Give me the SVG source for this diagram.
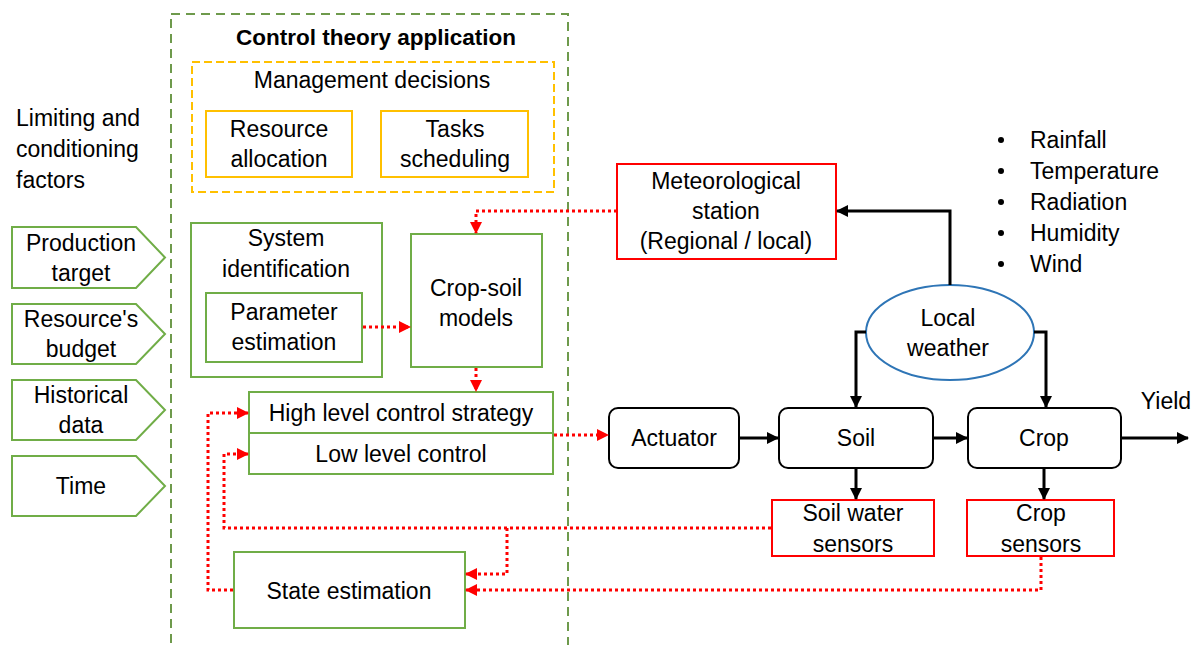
<svg xmlns="http://www.w3.org/2000/svg" width="1197" height="645" viewBox="0 0 1197 645">
  <style>
    text { font-family: "Liberation Sans", Arial, sans-serif; font-size: 23px; fill: #000; text-anchor: middle; }
    .left { text-anchor: start; }
    .title { font-weight: bold; font-size: 22.5px; }
    .green { fill: #fff; stroke: #70AD47; stroke-width: 2; }
    .yellow { fill: #fff; stroke: #FFC000; stroke-width: 2; }
    .red { fill: #fff; stroke: #FF0000; stroke-width: 2; }
    .plant { fill: #fff; stroke: #000; stroke-width: 2; }
    .dot { fill: none; stroke: #FF0000; stroke-width: 3; stroke-dasharray: 3 3; }
    .solid { fill: none; stroke: #000; stroke-width: 3; }
  </style>
  <defs>
    <marker id="redHead" markerUnits="userSpaceOnUse" markerWidth="12" markerHeight="12" refX="11" refY="6" orient="auto">
      <path d="M0,0 L12,6 L0,12 Z" fill="#FF0000"/>
    </marker>
    <marker id="blackHead" markerUnits="userSpaceOnUse" markerWidth="12" markerHeight="12" refX="11" refY="6" orient="auto">
      <path d="M0,0 L12,6 L0,12 Z" fill="#000"/>
    </marker>
  </defs>
  <rect width="1197" height="645" fill="#fff"/>

  <!-- control theory frame -->
  <g id="control-frame">
    <rect x="171" y="14" width="397" height="660" fill="none" stroke="#6E9A4C" stroke-width="2" stroke-dasharray="9 6"/>
    <text class="title" x="376" y="45">Control theory application</text>
  </g>

  <!-- management decisions -->
  <g id="management">
    <rect x="192" y="62" width="362" height="130" fill="none" stroke="#FFC000" stroke-width="2" stroke-dasharray="8 4"/>
    <text x="372" y="88">Management decisions</text>
  </g>
  <g id="resource-allocation">
    <rect class="yellow" x="206" y="111" width="146" height="66"/>
    <text x="279" y="137">Resource</text>
    <text x="279" y="167">allocation</text>
  </g>
  <g id="tasks-scheduling">
    <rect class="yellow" x="381" y="111" width="147" height="66"/>
    <text x="455" y="137">Tasks</text>
    <text x="455" y="167">scheduling</text>
  </g>

  <!-- limiting factors -->
  <g id="factors-label">
    <text class="left" x="16" y="126">Limiting and</text>
    <text class="left" x="16" y="157">conditioning</text>
    <text class="left" x="16" y="188">factors</text>
  </g>
  <g id="production-target">
    <path class="green" d="M12,227 H136 L165,257.5 L136,288 H12 Z"/>
    <text x="81" y="251">Production</text>
    <text x="81" y="281">target</text>
  </g>
  <g id="resource-budget">
    <path class="green" d="M12,304 H136 L165,334 L136,364 H12 Z"/>
    <text x="81" y="327">Resource's</text>
    <text x="81" y="357">budget</text>
  </g>
  <g id="historical-data">
    <path class="green" d="M12,380 H136 L165,410 L136,440 H12 Z"/>
    <text x="81" y="403">Historical</text>
    <text x="81" y="433">data</text>
  </g>
  <g id="time">
    <path class="green" d="M12,456 H136 L165,486 L136,516 H12 Z"/>
    <text x="81" y="494">Time</text>
  </g>

  <!-- controller blocks -->
  <g id="system-identification">
    <rect class="green" x="191" y="223" width="191" height="154"/>
    <text x="286" y="246">System</text>
    <text x="286" y="277">identification</text>
  </g>
  <g id="parameter-estimation">
    <rect class="green" x="206" y="293" width="156" height="69"/>
    <text x="284" y="320">Parameter</text>
    <text x="284" y="350">estimation</text>
  </g>
  <g id="crop-soil-models">
    <rect class="green" x="411" y="234" width="131" height="133"/>
    <text x="476" y="296">Crop-soil</text>
    <text x="476" y="326">models</text>
  </g>
  <g id="high-level-control">
    <rect class="green" x="249" y="392" width="304" height="41"/>
    <text x="401" y="421">High level control strategy</text>
  </g>
  <g id="low-level-control">
    <rect class="green" x="249" y="433" width="304" height="41"/>
    <text x="401" y="462">Low level control</text>
  </g>
  <g id="state-estimation">
    <rect class="green" x="234" y="552" width="231" height="76"/>
    <text x="349" y="599">State estimation</text>
  </g>

  <!-- plant side -->
  <g id="meteorological-station">
    <rect class="red" x="617" y="164" width="219" height="95"/>
    <text x="726" y="189">Meteorological</text>
    <text x="726" y="219">station</text>
    <text x="726" y="249">(Regional / local)</text>
  </g>
  <g id="weather-variables">
    <circle cx="1001" cy="140" r="3" fill="#000"/>
    <circle cx="1001" cy="171" r="3" fill="#000"/>
    <circle cx="1001" cy="202" r="3" fill="#000"/>
    <circle cx="1001" cy="233" r="3" fill="#000"/>
    <circle cx="1001" cy="264" r="3" fill="#000"/>
    <text class="left" x="1030" y="148">Rainfall</text>
    <text class="left" x="1030" y="179">Temperature</text>
    <text class="left" x="1030" y="210">Radiation</text>
    <text class="left" x="1030" y="241">Humidity</text>
    <text class="left" x="1030" y="272">Wind</text>
  </g>
  <g id="local-weather">
    <ellipse cx="950" cy="332.5" rx="84" ry="47.5" fill="#fff" stroke="#2E75B6" stroke-width="2"/>
    <text x="948" y="326">Local</text>
    <text x="948" y="356">weather</text>
  </g>
  <g id="actuator">
    <rect class="plant" x="609" y="408" width="130" height="60" rx="9"/>
    <text x="674" y="446">Actuator</text>
  </g>
  <g id="soil">
    <rect class="plant" x="779" y="408" width="154" height="60" rx="9"/>
    <text x="856" y="446">Soil</text>
  </g>
  <g id="crop">
    <rect class="plant" x="968" y="408" width="153" height="60" rx="9"/>
    <text x="1044" y="446">Crop</text>
  </g>
  <g id="yield">
    <text x="1166" y="409">Yield</text>
  </g>
  <g id="soil-water-sensors">
    <rect class="red" x="772" y="500" width="162" height="56"/>
    <text x="853" y="521">Soil water</text>
    <text x="853" y="552">sensors</text>
  </g>
  <g id="crop-sensors">
    <rect class="red" x="967" y="500" width="147" height="56"/>
    <text x="1041" y="521">Crop</text>
    <text x="1041" y="552">sensors</text>
  </g>

  <!-- connectors -->
  <g id="connectors">
    <path class="dot" d="M617,211 H476 V233" marker-end="url(#redHead)"/>
    <path class="dot" d="M363,327 H410" marker-end="url(#redHead)"/>
    <path class="dot" d="M476,368 V391" marker-end="url(#redHead)"/>
    <path class="dot" d="M554,435 H608" marker-end="url(#redHead)"/>
    <path class="dot" d="M771,528 H224 V454 H248" marker-end="url(#redHead)"/>
    <path class="dot" d="M507,528 V574 H466" marker-end="url(#redHead)"/>
    <path class="dot" d="M1041,557 V590 H466" marker-end="url(#redHead)"/>
    <path class="dot" d="M233,590 H208 V413 H248" marker-end="url(#redHead)"/>

    <path class="solid" d="M950,285 V211 H837" marker-end="url(#blackHead)"/>
    <path class="solid" d="M866,332 H856 V407" marker-end="url(#blackHead)"/>
    <path class="solid" d="M1034,332 H1046 V407" marker-end="url(#blackHead)"/>
    <path class="solid" d="M739,438 H778" marker-end="url(#blackHead)"/>
    <path class="solid" d="M933,438 H967" marker-end="url(#blackHead)"/>
    <path class="solid" d="M1121,438 H1188" marker-end="url(#blackHead)"/>
    <path class="solid" d="M856,468 V499" marker-end="url(#blackHead)"/>
    <path class="solid" d="M1044,468 V499" marker-end="url(#blackHead)"/>
  </g>
</svg>
